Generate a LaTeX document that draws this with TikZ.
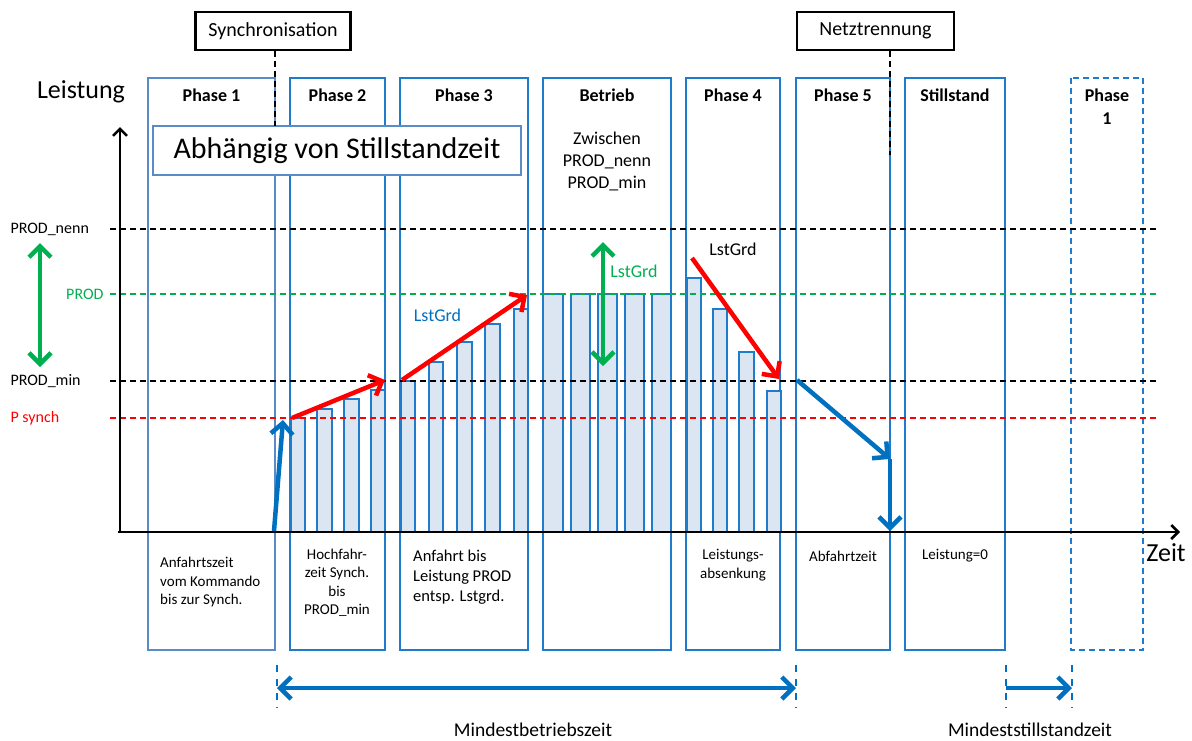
\documentclass[tikz,border=0pt]{standalone}
\usepackage{fontspec}
\setmainfont{Carlito}
\usetikzlibrary{arrows.meta}
\definecolor{phaseblue}{HTML}{1F7BCB}
\definecolor{paleblue}{HTML}{5A8BC6}
\definecolor{barfill}{HTML}{DCE6F2}
\definecolor{darrowblue}{HTML}{0070C0}
\definecolor{prodgreen}{HTML}{00B050}
\newcommand{\fsize}[2]{\fontsize{#1}{#2}\selectfont}
\tikzset{
  phase/.style={draw=phaseblue,line width=1.5pt},
  bar/.style={draw=phaseblue,fill=barfill,line width=1.5pt},
  level/.style={line width=1.3pt,dash pattern=on 6pt off 4pt},
  fat/.style={line width=4.5pt,->},
  dbl/.style={line width=4.5pt,<->},
  title/.style={font=\fsize{18}{23}\bfseries,align=center},
  small/.style={font=\fsize{15}{18.5},inner sep=0pt},
  markbox/.style={draw,line width=2.5pt,minimum height=38pt,font=\fsize{20}{23}},
  tick/.style={draw=darrowblue,line width=1.8pt,dash pattern=on 7pt off 7pt}
}
\begin{document}
\begin{tikzpicture}[x=1pt,y=-1pt,>={Straight Barb[length=11pt,width=22pt]}]
	\useasboundingbox (0,0) rectangle (1192,740);
	% phases
	\draw[phase,draw=paleblue] (148,78) rectangle (275,650);
	\node[title] (ph1) at (211.5,95) {Phase 1};
	\foreach \l/\r/\t [count=\i from 2] in {290/385/Phase 2,400/528/Phase 3,543/671/Betrieb,686/780/Phase 4,796/890/Phase 5,905/1005/Stillstand}{
		\draw[phase] (\l,78) rectangle (\r,650);
		\node[title] (ph\i) at ({(\l+\r)/2},95) {\t};
	}
	\draw[phase,dash pattern=on 6pt off 4pt] (1071,78) rectangle (1143,650);
	\node[title] (ph9) at (1107,106.5) {Phase\\1};
	% bars
	\foreach \l/\r/\h in {291/305/418,317/332/409,344/359/399,371/385/390,401/415/381,429/443/362,457/472/342,485/500/324,514/528/309,543/563/294,571/590/294,598/617/294,625/644/294,652/671/294,687/701/278,713/727/309,739/754/352,767/781/391}
		\draw[bar] (\l,532) rectangle (\r,\h);
	% levels
	\draw[level] (110,229) -- (1158,229);
	\draw[level,prodgreen] (110,294) -- (1158,294);
	\draw[level] (110,381) -- (1158,381);
	\draw[level,red] (110,418) -- (1158,418);
	\node[anchor=west,font=\fsize{16}{19}] (nenn) at (7,229) {PROD\_nenn};
	\node[anchor=east,font=\fsize{16}{19},text=prodgreen] (prod) at (107,294) {PROD};
	\node[anchor=west,font=\fsize{16}{19}] (pmin) at (7,381) {PROD\_min};
	\node[anchor=west,font=\fsize{16}{19},text=red] (psynch) at (7,418) {P synch};
	\draw[dbl,prodgreen] (40,243) -- (40,367);
	% axes
	\draw[line width=2.5pt,-{Straight Barb[length=7pt,width=14pt]}] (120,533) -- (120,127);
	\draw[line width=2.5pt,-{Straight Barb[length=7pt,width=14pt]}] (118,532) -- (1180,532);
	\node[font=\fsize{26}{30}] (leistung) at (81,92) {Leistung};
	\node[font=\fsize{26}{30}] (zeit) at (1166,553) {Zeit};
	% power arrows
	\coordinate (a0) at (274,531);
	\coordinate (a1) at (283,420);
	\coordinate (r1) at (292,418);
	\coordinate (r2) at (385,380);
	\coordinate (r3) at (402,380);
	\coordinate (r4) at (527,295);
	\coordinate (r5) at (692,258);
	\coordinate (r6) at (779,379);
	\coordinate (b1) at (797,380);
	\coordinate (b2) at (890,459);
	\coordinate (b3) at (890,531);
	\coordinate (g1) at (603,242);
	\coordinate (g2) at (603,366);
	\draw[fat,darrowblue] (a0) -- (a1);
	\draw[fat,red] (r1) -- (r2);
	\draw[fat,red] (r3) -- (r4);
	\draw[fat,red] (r5) -- (r6);
	\draw[fat,darrowblue] (b1) -- (b2);
	\draw[fat,darrowblue] (b2) -- (b3);
	\draw[dbl,prodgreen] (g1) -- (g2);
	\node[font=\fsize{18}{21},text=darrowblue] (lg1) at (437.5,315) {LstGrd};
	\node[font=\fsize{18}{21},text=prodgreen] (lg2) at (634,271) {LstGrd};
	\node[font=\fsize{18}{21}] (lg3) at (733,249) {LstGrd};
	\node[font=\fsize{18}{22},align=center] (zwischen) at (607,161) {Zwischen\\PROD\_nenn\\PROD\_min};
	% events
	\node[draw=paleblue,fill=white,line width=1.5pt,minimum width=368pt,minimum height=49pt,font=\fsize{30}{34}] (abh) at (337,150.5) {Abhängig von Stillstandzeit};
	\node[markbox,minimum width=155pt] (sync) at (273,31) {Synchronisation};
	\draw[level,line width=1.5pt] (sync.south -| 275,0) -- (275,126);
	\node[markbox,minimum width=157pt] (netz) at (875.5,31) {Netztrennung};
	\coordinate (netzend) at (890,155);
	\draw[level,line width=1.5pt] (netz.south -| netzend) -- (netzend);
	% descriptions
	\node[small,align=left,anchor=west] (d1) at (160,582) {Anfahrtszeit\\vom Kommando\\bis zur Synch.};
	\node[small,align=center] (d2) at (337,583) {Hochfahr-\\zeit Synch.\\bis\\PROD\_min};
	\node[small,font=\fsize{16.5}{20},align=left,anchor=west] (d3) at (413,577) {Anfahrt bis\\Leistung PROD\\entsp. Lstgrd.};
	\node[small,align=center] (d4) at (733,565) {Leistungs-\\absenkung};
	\node[small] (d5) at (843,556) {Abfahrtzeit};
	\node[small] (d6) at (955,556) {Leistung=0};
	% minimum times
	\coordinate (m1) at (277,688);
	\coordinate (m2) at (796,688);
	\coordinate (m3) at (1006,688);
	\coordinate (m4) at (1072,688);
	\foreach \x in {277,796,1006,1072}
		\draw[tick] (\x,665) -- (\x,708);
	\draw[dbl,darrowblue] (m1) -- (m2);
	\draw[fat,darrowblue] (m3) -- (m4);
	\node[font=\fsize{19.5}{23},inner sep=0pt,anchor=base] (mbetrieb) at (533,736) {Mindestbetriebszeit};
	\node[font=\fsize{19.5}{23},inner sep=0pt,anchor=base] (mstill) at (1030,736) {Mindeststillstandzeit};
\end{tikzpicture}
\end{document}
